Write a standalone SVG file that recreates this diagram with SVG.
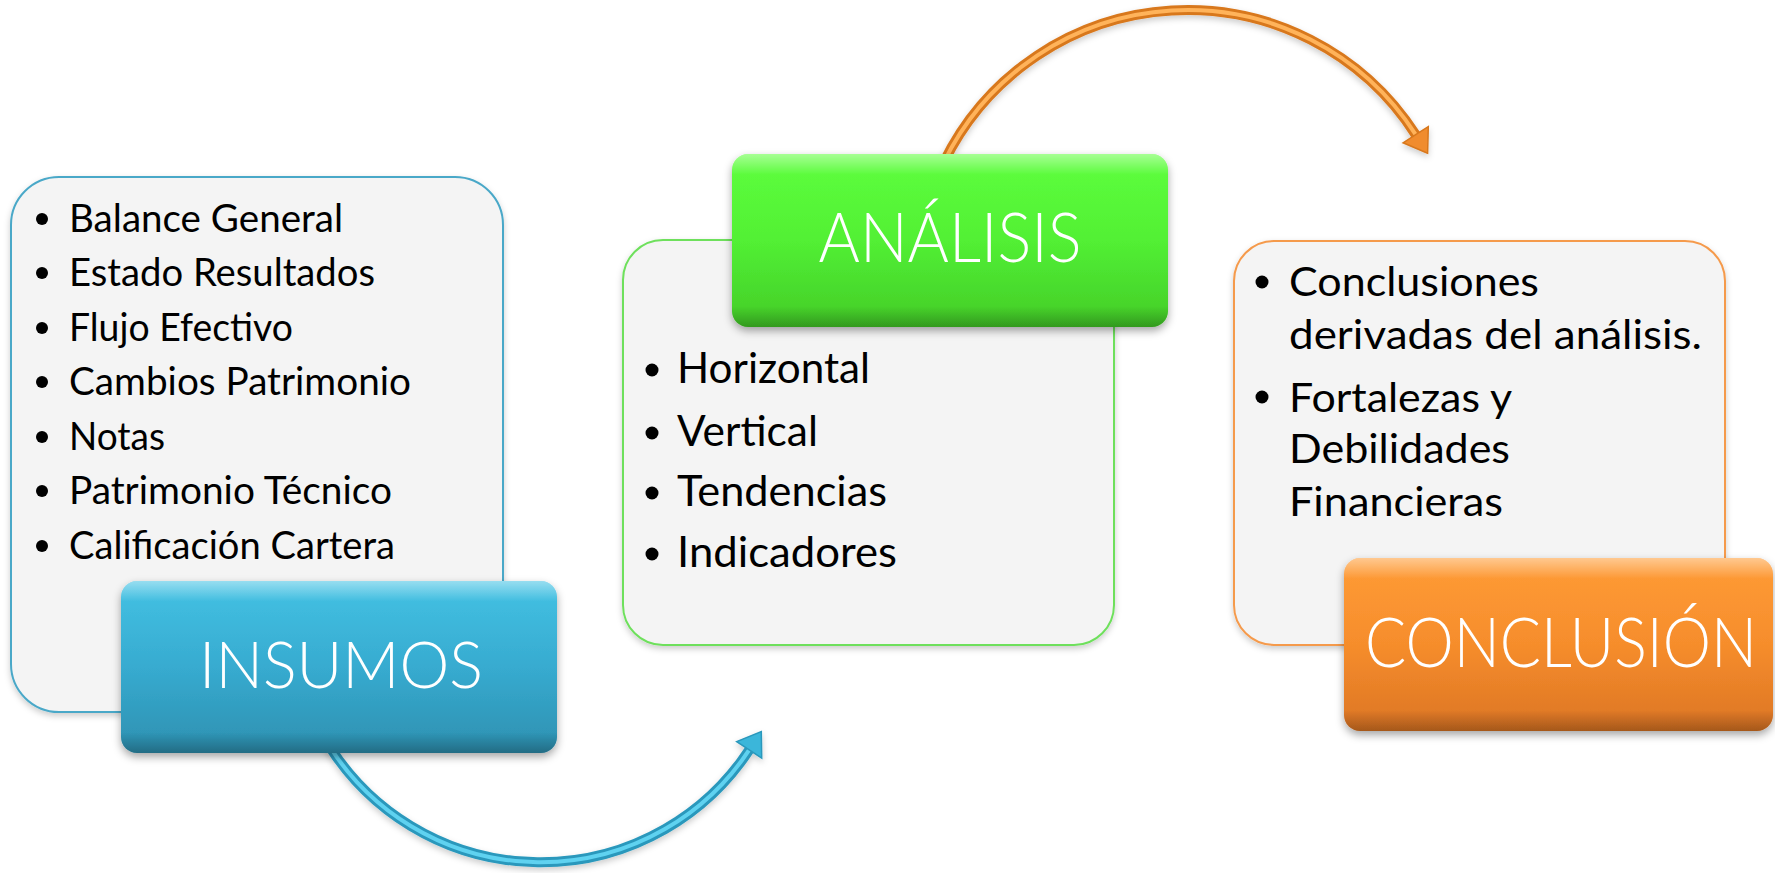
<svg xmlns="http://www.w3.org/2000/svg" width="1775" height="873" viewBox="0 0 1775 873">
<defs>
<filter id="shadow" x="-10%" y="-10%" width="120%" height="130%">
<feDropShadow dx="0" dy="4" stdDeviation="4" flood-color="#000" flood-opacity="0.35"/>
</filter>
<filter id="shadowSoft" x="-10%" y="-10%" width="120%" height="130%">
<feDropShadow dx="0" dy="3" stdDeviation="3" flood-color="#000" flood-opacity="0.2"/>
</filter>
<linearGradient id="gBlue" x1="0" y1="0" x2="0" y2="1">
<stop offset="0" stop-color="#43c2e4"/>
<stop offset="0.5" stop-color="#37abd0"/>
<stop offset="1" stop-color="#2d90b0"/>
</linearGradient>
<linearGradient id="gGreen" x1="0" y1="0" x2="0" y2="1">
<stop offset="0" stop-color="#5eff3e"/>
<stop offset="0.5" stop-color="#52f034"/>
<stop offset="1" stop-color="#43cc28"/>
</linearGradient>
<linearGradient id="gOrange" x1="0" y1="0" x2="0" y2="1">
<stop offset="0" stop-color="#ff9c36"/>
<stop offset="0.5" stop-color="#f68d2c"/>
<stop offset="1" stop-color="#dc7524"/>
</linearGradient>
<linearGradient id="gHi" x1="0" y1="0" x2="0" y2="1">
<stop offset="0" stop-color="#fff" stop-opacity="0.45"/>
<stop offset="0.12" stop-color="#fff" stop-opacity="0"/>
<stop offset="0.88" stop-color="#000" stop-opacity="0"/>
<stop offset="1" stop-color="#000" stop-opacity="0.25"/>
</linearGradient>
</defs>
<style>
.tbox{fill:#f4f4f4;stroke-width:2;filter:url(#shadowSoft)}
.hdr{filter:url(#shadow)}
.hi{fill:url(#gHi)}
.body{font-family:Lato,"Open Sans","Liberation Sans",sans-serif;fill:#000;}
.title{font-family:Lato,"Open Sans","Liberation Sans",sans-serif;font-weight:300;fill:#fff;text-anchor:middle;}
.dot{fill:#000}
.shaft{fill:none;stroke-linecap:butt}
</style>

<g id="connectors">
<g id="arrow-insumos-analisis" filter="url(#shadowSoft)">
<path class="shaft" d="M328.5,744.8 A250,250 0 0 0 749.2,749.9" stroke="#2a98bc" stroke-width="10"/>
<path class="shaft" d="M328.5,744.8 A250,250 0 0 0 749.2,749.9" stroke="#5fd2f0" stroke-width="4"/>
<polygon points="761.3,731.5 761.7,758.2 749.2,749.9 736.7,741.6" fill="#3ab6da" stroke="#2a98bc" stroke-width="1.5"/>
</g>
<g id="arrow-analisis-conclusion" filter="url(#shadowSoft)">
<path class="shaft" d="M943.7,162.4 A271.3,271.3 0 0 1 1415.7,134.7" stroke="#d8781e" stroke-width="10"/>
<path class="shaft" d="M943.7,162.4 A271.3,271.3 0 0 1 1415.7,134.7" stroke="#ffb35a" stroke-width="4"/>
<polygon points="1427.6,153.2 1403.1,142.8 1415.7,134.7 1428.3,126.6" fill="#f08c2e" stroke="#d8781e" stroke-width="1.5"/>
</g>
</g>

<g id="insumos-list">
<rect class="tbox" x="11" y="177" width="492" height="535" rx="48" stroke="#4aa8c8"/>
<circle class="dot" cx="42" cy="219" r="6"/>
<circle class="dot" cx="42" cy="273" r="6"/>
<circle class="dot" cx="42" cy="328" r="6"/>
<circle class="dot" cx="42" cy="382" r="6"/>
<circle class="dot" cx="42" cy="437" r="6"/>
<circle class="dot" cx="42" cy="491" r="6"/>
<circle class="dot" cx="42" cy="546" r="6"/>
<text class="body" font-size="39" x="69" y="232" textLength="274" lengthAdjust="spacingAndGlyphs">Balance General</text>
<text class="body" font-size="39" x="69" y="286" textLength="306" lengthAdjust="spacingAndGlyphs">Estado Resultados</text>
<text class="body" font-size="39" x="69" y="341" textLength="224" lengthAdjust="spacingAndGlyphs">Flujo Efectivo</text>
<text class="body" font-size="39" x="69" y="395" textLength="342" lengthAdjust="spacingAndGlyphs">Cambios Patrimonio</text>
<text class="body" font-size="39" x="69" y="450" textLength="96" lengthAdjust="spacingAndGlyphs">Notas</text>
<text class="body" font-size="39" x="69" y="504" textLength="323" lengthAdjust="spacingAndGlyphs">Patrimonio Técnico</text>
<text class="body" font-size="39" x="69" y="559" textLength="326" lengthAdjust="spacingAndGlyphs">Calificación Cartera</text>
</g>

<g id="insumos">
<rect class="hdr" x="121" y="581" width="436" height="172" rx="16" fill="url(#gBlue)"/>
<rect class="hi" x="121" y="581" width="436" height="172" rx="16"/>
<text class="title" font-size="65" x="341" y="688" textLength="284" lengthAdjust="spacingAndGlyphs">INSUMOS</text>
</g>

<g id="analisis-list">
<rect class="tbox" x="623" y="240" width="491" height="405" rx="40" stroke="#6ee05c"/>
<circle class="dot" cx="652" cy="370" r="6.5"/>
<circle class="dot" cx="652" cy="433" r="6.5"/>
<circle class="dot" cx="652" cy="493" r="6.5"/>
<circle class="dot" cx="652" cy="554" r="6.5"/>
<text class="body" font-size="43" x="677" y="383" textLength="193" lengthAdjust="spacingAndGlyphs">Horizontal</text>
<text class="body" font-size="43" x="677" y="446" textLength="141" lengthAdjust="spacingAndGlyphs">Vertical</text>
<text class="body" font-size="43" x="677" y="506" textLength="210" lengthAdjust="spacingAndGlyphs">Tendencias</text>
<text class="body" font-size="43" x="677" y="567" textLength="220" lengthAdjust="spacingAndGlyphs">Indicadores</text>
</g>

<g id="analisis">
<rect class="hdr" x="732" y="154" width="436" height="173" rx="16" fill="url(#gGreen)"/>
<rect class="hi" x="732" y="154" width="436" height="173" rx="16"/>
<text class="title" font-size="68" x="950" y="262" textLength="263" lengthAdjust="spacingAndGlyphs">ANÁLISIS</text>
</g>

<g id="conclusion-list">
<rect class="tbox" x="1234" y="241" width="491" height="404" rx="40" stroke="#f59a4c"/>
<circle class="dot" cx="1262" cy="282" r="6.5"/>
<circle class="dot" cx="1262" cy="397" r="6.5"/>
<text class="body" font-size="41" x="1289" y="296" textLength="250" lengthAdjust="spacingAndGlyphs">Conclusiones</text>
<text class="body" font-size="41" x="1289" y="349" textLength="413" lengthAdjust="spacingAndGlyphs">derivadas del análisis.</text>
<text class="body" font-size="41" x="1289" y="412" textLength="223" lengthAdjust="spacingAndGlyphs">Fortalezas y</text>
<text class="body" font-size="41" x="1289" y="463" textLength="221" lengthAdjust="spacingAndGlyphs">Debilidades</text>
<text class="body" font-size="41" x="1289" y="516" textLength="214" lengthAdjust="spacingAndGlyphs">Financieras</text>
</g>

<g id="conclusion">
<rect class="hdr" x="1344" y="558" width="429" height="173" rx="16" fill="url(#gOrange)"/>
<rect class="hi" x="1344" y="558" width="429" height="173" rx="16"/>
<text class="title" font-size="68" x="1561" y="667" textLength="392" lengthAdjust="spacingAndGlyphs">CONCLUSIÓN</text>
</g>
</svg>
